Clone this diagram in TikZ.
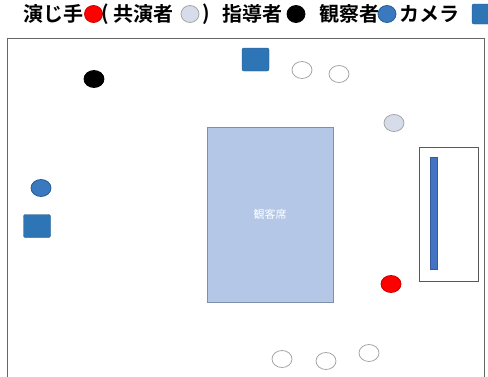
\documentclass[tikz,border=0pt]{standalone}
\usepackage{fontspec}
\newfontfamily\jpb{Noto Sans CJK JP Bold}
\newfontfamily\jp{Noto Sans CJK JP}
\usetikzlibrary{shapes.geometric}
\definecolor{seatfill}{HTML}{B4C7E7}
\definecolor{seatline}{HTML}{7F8FA9}
\definecolor{camblue}{HTML}{2E75B6}
\definecolor{obsblue}{HTML}{3A78C0}
\definecolor{coperf}{HTML}{D6DCE9}
\definecolor{barblue}{HTML}{4472C4}
\tikzset{
  x=1pt, y=-1pt,
  person/.style={ellipse, minimum width=20pt, minimum height=17pt, inner sep=0pt, line width=0.8pt},
  costar/.style={person, draw=gray!70, fill=white},
  costarg/.style={person, draw=gray!70, fill=coperf},
  actor/.style={person, draw=red!80!black, fill=red},
  coach/.style={person, draw=black, fill=black},
  observer/.style={person, draw=camblue!80!black, fill=obsblue},
  camera/.style={rectangle, rounded corners=2pt, minimum width=27pt, minimum height=23pt, inner sep=0pt, draw=camblue!70!black, fill=camblue},
  legend/.style={font=\jpb\fontsize{20}{20}\selectfont, inner sep=0pt, anchor=west},
  lperson/.style={ellipse, minimum width=18pt, minimum height=17pt, inner sep=0pt, line width=0.8pt}
}
\begin{document}
\begin{tikzpicture}
\useasboundingbox (0,0) rectangle (488,376);
\clip (0,0) rectangle (488,376);
\fill[white] (0,0) rectangle (488,376);
% legend
\node[legend] (l1) at (23,14) {演じ手};
\node[lperson, draw=red!80!black, fill=red] (lr) at (93.5,14) {};
\node[legend] (l2a) at (101,14) {(};
\node[legend] (l2) at (113,14) {共演者};
\node[lperson, draw=gray!70, fill=coperf] (lg) at (190,14) {};
\node[legend] (l3) at (202,14) {)};
\node[legend] (l4) at (222,14) {指導者};
\node[lperson, draw=black, fill=black] (lb) at (296,14) {};
\node[legend] (l5) at (319,14) {観察者};
\node[lperson, draw=camblue!80!black, fill=obsblue] (lo) at (387,14) {};
\node[legend] (l6) at (399,14) {カメラ};
\node[rectangle, rounded corners=2pt, minimum width=20pt, minimum height=20pt, inner sep=0pt, draw=camblue!70!black, fill=camblue] (lc) at (482,14) {};
% frame
\draw[line width=1pt, draw=gray!80!black] (7.5,390) -- (7.5,38) -- (484,38) -- (484,390);
% seats
\node[rectangle, draw=seatline, fill=seatfill, line width=1pt, minimum width=126pt, minimum height=175pt, inner sep=0pt, text=white, font=\jp\fontsize{11}{11}\selectfont] (seat) at (270,214.5) {観客席};
% stage box
\node[rectangle, draw=gray!70!black, line width=0.8pt, fill=white, minimum width=59pt, minimum height=134pt, inner sep=0pt] (stage) at (448.5,214) {};
\node[rectangle, draw=barblue!80!black, fill=barblue, minimum width=7pt, minimum height=112pt, inner sep=0pt] (bar) at (433.5,213) {};
% people
\node[coach] (coach) at (94,79) {};
\node[camera] (cam1) at (255.5,59.5) {};
\node[costar] (c1) at (302,70) {};
\node[costar] (c2) at (339,74) {};
\node[costarg] (c3) at (394,123) {};
\node[observer] (obs) at (41,188) {};
\node[camera] (cam2) at (37,226) {};
\node[actor] (actor) at (391,284) {};
\node[costar] (c4) at (282,359) {};
\node[costar] (c5) at (326,361) {};
\node[costar] (c6) at (369,353) {};
\end{tikzpicture}
\end{document}
